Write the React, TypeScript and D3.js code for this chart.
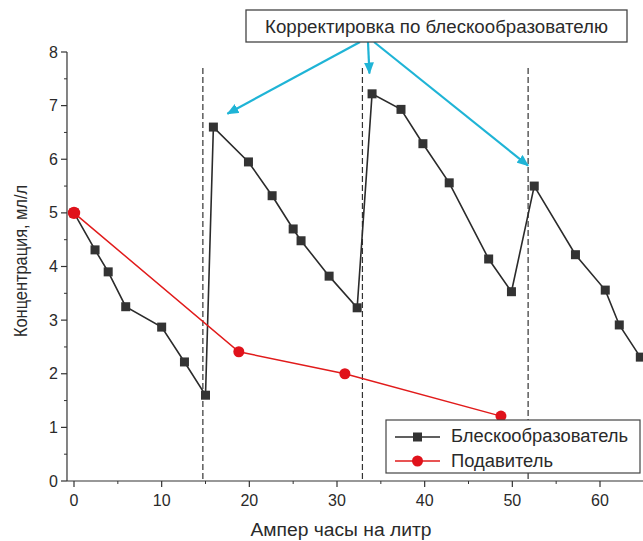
import React from "react";
import * as d3 from "d3";

const brightX = [0, 2.4, 3.9, 5.9, 10.0, 12.6, 15.0, 15.9, 19.9, 22.6, 25.0, 25.9, 29.1, 32.3, 34.0, 37.3, 39.8, 42.8, 47.3, 49.9, 52.5, 57.2, 60.6, 62.2, 64.6];
const brightY = [5.0, 4.31, 3.9, 3.25, 2.87, 2.22, 1.6, 6.6, 5.95, 5.32, 4.7, 4.48, 3.82, 3.23, 7.22, 6.93, 6.29, 5.56, 4.14, 3.53, 5.5, 4.22, 3.56, 2.91, 2.31];
const suppX = [0, 18.8, 30.9, 48.7];
const suppY = [5.0, 2.41, 2.0, 1.21];
const correctionX = [14.7, 32.9, 51.8];
const xTicks = [0, 10, 20, 30, 40, 50, 60];
const yTicks = [0, 1, 2, 3, 4, 5, 6, 7, 8];
const seriesNames = ["Блескообразователь", "Подавитель"];
const annotationText = "Корректировка по блескообразователю";
const xTitle = "Ампер часы на литр";
const yTitle = "Концентрация, мл/л";

export default function App() {
  const W = 643, H = 541;
  const x = d3.scaleLinear().domain([0, 60]).range([74, 600]);
  const y = d3.scaleLinear().domain([0, 8]).range([481, 52]);
  const x0 = x(-0.8);
  const xEnd = W;
  const font = "'Liberation Sans', Arial, sans-serif";
  const txt = "#2a2a2a";
  const cyan = "#1fb4d6";

  const bright = brightX.map((v, i) => [v, brightY[i]] as [number, number]);
  const supp = suppX.map((v, i) => [v, suppY[i]] as [number, number]);
  const line = d3.line<[number, number]>().x(d => x(d[0])).y(d => y(d[1]));

  const xMinor = d3.range(5, 66, 10);
  const yMinor = d3.range(0.5, 8, 1);

  const boxX = 246, boxY = 10, boxW = 381, boxH = 32;
  const arrows = [
    { x1: 360, y1: 42, target: [17.5, 6.85] },
    { x1: 368, y1: 42, target: [33.7, 7.6] },
    { x1: 374, y1: 42, target: [51.8, 5.88] },
  ];

  return (
    <svg width={W} height={H} style={{ position: "absolute", left: 0, top: 0, background: "#fff" }} fontFamily={font}>
      <defs>
        <marker id="ah" viewBox="0 0 12 10" refX="11" refY="5" markerWidth="12" markerHeight="10" markerUnits="userSpaceOnUse" orient="auto">
          <path d="M0,0 L12,5 L0,10 Z" fill={cyan} />
        </marker>
      </defs>
      {correctionX.map((v, i) => (
        <line key={i} x1={x(v)} x2={x(v)} y1={68} y2={y(0)} stroke="#333" strokeWidth={1.2} strokeDasharray="6,3" />
      ))}
      <line x1={x0} x2={x0} y1={y(8)} y2={y(0)} stroke="#333" strokeWidth={1.2} />
      <line x1={x0} x2={xEnd} y1={y(0)} y2={y(0)} stroke="#333" strokeWidth={1.2} />
      {yTicks.map(t => (
        <g key={t}>
          <line x1={x0 - 6} x2={x0} y1={y(t)} y2={y(t)} stroke="#333" strokeWidth={1.2} />
          <text x={x0 - 9} y={y(t)} dy="0.35em" textAnchor="end" fontSize={16} fill={txt}>{t}</text>
        </g>
      ))}
      {yMinor.map(t => (
        <line key={t} x1={x0 - 3} x2={x0} y1={y(t)} y2={y(t)} stroke="#333" strokeWidth={1} />
      ))}
      {xTicks.map(t => (
        <g key={t}>
          <line x1={x(t)} x2={x(t)} y1={y(0)} y2={y(0) + 6} stroke="#333" strokeWidth={1.2} />
          <text x={x(t)} y={y(0) + 25} textAnchor="middle" fontSize={16} fill={txt}>{t}</text>
        </g>
      ))}
      {xMinor.map(t => (
        <line key={t} x1={x(t)} x2={x(t)} y1={y(0)} y2={y(0) + 3} stroke="#333" strokeWidth={1} />
      ))}
      <g transform="translate(341,536) scale(1.07,1)">
        <text x={0} y={0} textAnchor="middle" fontSize={18} fill={txt}>{xTitle}</text>
      </g>
      <g transform={`translate(27,261) rotate(-90) scale(0.91,1)`}>
        <text x={0} y={0} textAnchor="middle" fontSize={18} fill={txt}>{yTitle}</text>
      </g>

      <path d={line(bright) || ""} fill="none" stroke="#2b2b2b" strokeWidth={1.6} />
      {bright.map((d, i) => (
        <rect key={i} x={x(d[0]) - 4.5} y={y(d[1]) - 4.5} width={9} height={9} fill="#333" />
      ))}
      <path d={line(supp) || ""} fill="none" stroke="#e11b1b" strokeWidth={1.5} />
      {supp.map((d, i) => (
        <circle key={i} cx={x(d[0])} cy={y(d[1])} r={i === 0 ? 6.2 : 5.5} fill="#e0121b" />
      ))}

      {arrows.map((a, i) => (
        <line key={i} x1={a.x1} y1={a.y1} x2={x(a.target[0])} y2={y(a.target[1])} stroke={cyan} strokeWidth={2.2} markerEnd="url(#ah)" />
      ))}
      <rect x={boxX} y={boxY} width={boxW} height={boxH} fill="#fff" stroke="#444" strokeWidth={1.3} />
      <text x={boxX + boxW / 2} y={boxY + boxH / 2} dy="0.35em" textAnchor="middle" fontSize={18.7} fill={txt}>{annotationText}</text>

      <rect x={386} y={420} width={254} height={53} fill="#fff" stroke="#444" strokeWidth={1.2} />
      <line x1={395} x2={440} y1={437} y2={437} stroke="#2b2b2b" strokeWidth={1.6} />
      <rect x={417.5 - 4.5} y={437 - 4.5} width={9} height={9} fill="#333" />
      <g transform="translate(451,442) scale(1.02,1)">
        <text x={0} y={0} fontSize={18} fill={txt}>{seriesNames[0]}</text>
      </g>
      <line x1={395} x2={440} y1={461} y2={461} stroke="#e11b1b" strokeWidth={1.5} />
      <circle cx={417.5} cy={461} r={5.5} fill="#e0121b" />
      <g transform="translate(451,467) scale(1.02,1)">
        <text x={0} y={0} fontSize={18} fill={txt}>{seriesNames[1]}</text>
      </g>
    </svg>
  );
}
